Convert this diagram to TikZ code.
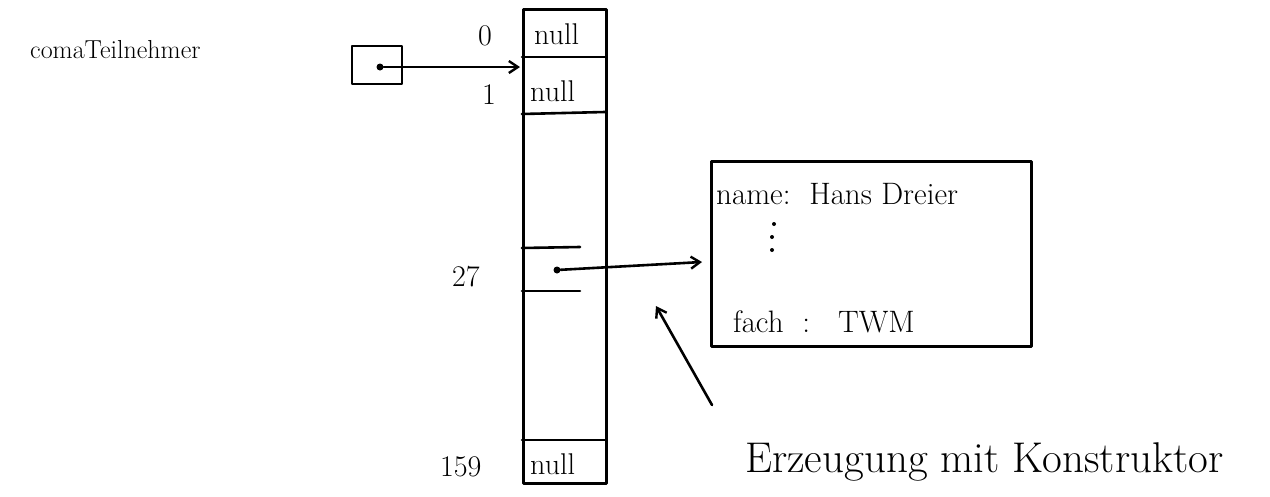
\documentclass[tikz,border=0pt]{standalone}
\usetikzlibrary{arrows.meta}
\begin{document}
\begin{tikzpicture}[x=1pt,y=-1pt,
  ink/.style={line width=2.6pt,line cap=round,line join=round},
  arr/.style={ink,-{Straight Barb[length=9pt,width=12pt,line width=2.4pt]}},
  txt/.style={inner sep=0pt,anchor=base west,font=\fontsize{26}{30}\selectfont},
  celltxt/.style={txt,font=\fontsize{30}{34}\selectfont},
  objtxt/.style={txt,font=\fontsize{31}{36}\selectfont},
  big/.style={inner sep=0pt,anchor=base west,font=\fontsize{43}{50}\selectfont},
  dot/.style={circle,fill,inner sep=0pt,minimum size=7pt},
  smalldot/.style={circle,fill,inner sep=0pt,minimum size=4pt}]
\useasboundingbox (0,0) rectangle (1270,496);
% variable label and reference box
\node[txt] (lbl) at (30,58) {comaTeilnehmer};
\node[ink,draw,minimum width=50pt,minimum height=38pt,inner sep=0pt] (ref) at (377,65) {};
\node[dot] (d1) at (380,67) {};
% array
\node[ink,draw,minimum width=83pt,minimum height=474pt,inner sep=0pt,anchor=north west] (array) at (522,8) {};
\draw[ink] (522,57) -- (605,57);
\draw[ink] (522,114) -- (605,112);
\draw[ink] (522,248) -- (580,247);
\draw[ink] (522,291) -- (580,291);
\draw[ink] (522,440) -- (605,440);
\node[celltxt] (n0) at (534,44) {null};
\node[celltxt] (n1) at (530,101) {null};
\node[celltxt] (n159) at (530,474) {null};
\node[txt,font=\fontsize{30}{34}\selectfont] (i0) at (478,45) {0};
\node[txt,font=\fontsize{30}{34}\selectfont] (i1) at (482,104) {1};
\node[txt,font=\fontsize{30}{34}\selectfont] (i27) at (452,286) {27};
\node[txt,font=\fontsize{30}{34}\selectfont] (i159) at (440,476) {159};
\node[dot] (d27) at (557,270) {};
% object
\node[ink,draw,minimum width=320pt,minimum height=185pt,inner sep=0pt,anchor=north west] (obj) at (710,160) {};
\node[objtxt] (fname) at (716,204) {name:\ \ Hans Dreier};
\node[smalldot] (v1) at (774,224) {};
\node[smalldot] (v2) at (772,237) {};
\node[smalldot] (v3) at (772,250) {};
\node[objtxt] (ffach) at (733,332) {fach\ \ :\ \ \ TWM};
% arrows
\coordinate (c1) at (520,67);
\draw[arr] (d1) -- (c1);
\coordinate (oe) at (702,262);
\draw[arr] (d27) -- (oe);
\node[big] (ctor) at (745,472) {Erzeugung mit Konstruktor};
\coordinate (cs) at (712,405);
\coordinate (ce) at (656,306);
\draw[arr] (cs) -- (ce);
\end{tikzpicture}
\end{document}
